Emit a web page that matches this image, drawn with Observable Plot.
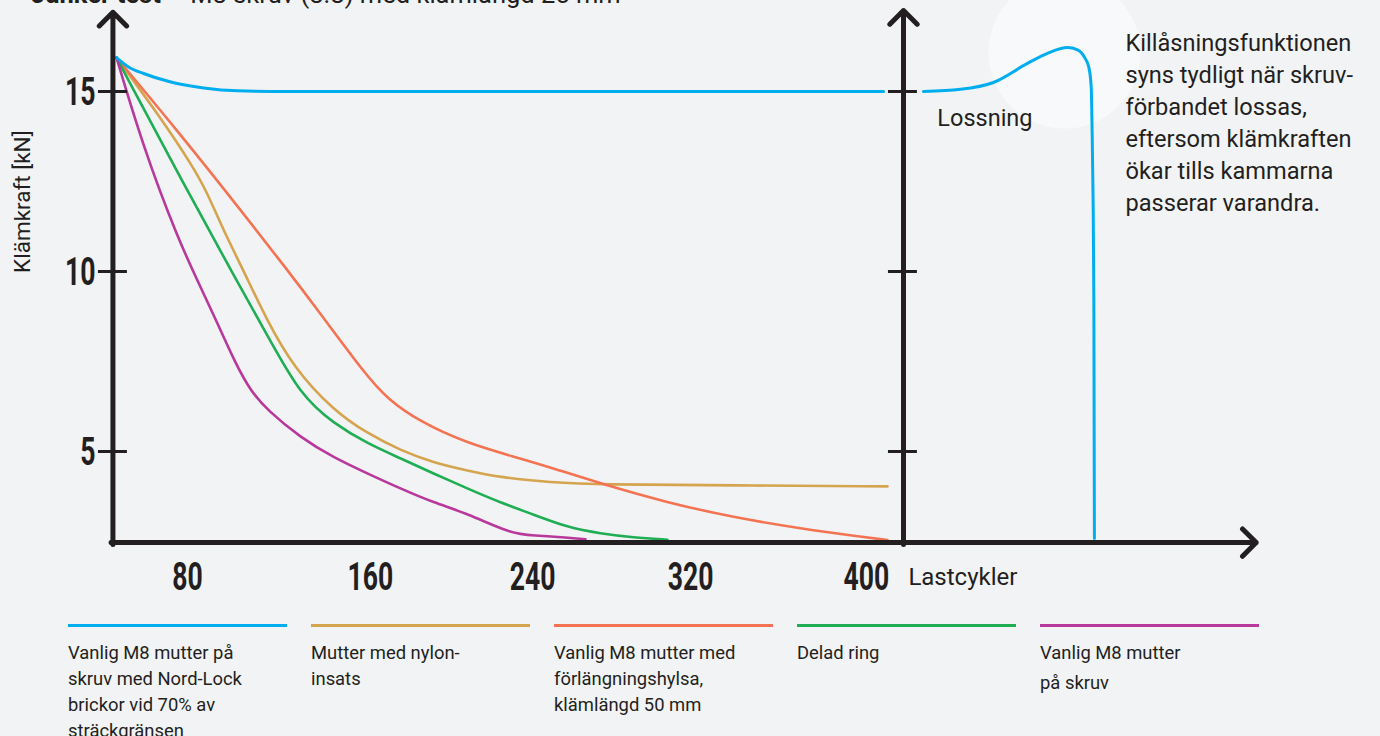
<!DOCTYPE html>
<html><head><meta charset="utf-8">
<script src="https://cdn.jsdelivr.net/npm/d3@7"></script>
<script src="https://cdn.jsdelivr.net/npm/@observablehq/plot@0.6"></script>
<style>
html,body{margin:0;padding:0;background:#f2f3f5;}
body{width:1380px;height:736px;overflow:hidden;position:relative;font-family:Roboto,sans-serif;color:#231f20;}
#title{position:absolute;left:31px;top:-18px;font-size:25.5px;line-height:25.5px;white-space:nowrap;}
#legend{display:flex;gap:24px;margin-left:68px;padding-top:19px;}
.item{width:219px;}
.item .sw{height:3px;}
.item .lab{margin-top:13px;font-size:18.4px;line-height:26px;}
.item.last .lab{margin-top:11px;line-height:30px;}
</style></head><body>
<div id="chart"></div>
<div id="legend"></div>
<div id="title"><b>Junker test</b> – M8 skruv (8.8) med klämlängd 25 mm</div>
<script>
// ---- data ----
const seriesNames = ["Nord-Lock", "Nylon", "Förlängningshylsa", "Delad ring", "Vanlig"];
const seriesColors = ["#00aeef", "#d5a44e", "#f47353", "#1fae54", "#b8399b"];
const legendLabels = [
  ["Vanlig M8 mutter på", "skruv med Nord-Lock", "brickor vid 70% av", "sträckgränsen"],
  ["Mutter med nylon-", "insats"],
  ["Vanlig M8 mutter med", "förlängningshylsa,", "klämlängd 50 mm"],
  ["Delad ring"],
  ["Vanlig M8 mutter", "på skruv"]
];

const nordLockX = [1.6, 8, 16, 30, 48, 66, 90, 409.4];
const nordLockY = [15.94, 15.68, 15.5, 15.27, 15.1, 15.02, 15.0, 15.0];
// loosening part (right panel)
const looseX = [430.6, 450.3, 467.8, 485.9, 496.5, 507.2, 512.3, 516.2, 518.5, 519.8, 520.3, 520.8, 521.2, 521.5];
const looseY = [15.0, 15.06, 15.25, 15.78, 16.06, 16.22, 16.16, 15.95, 15.68, 15.12, 13.83, 11.97, 9.19, 2.58];

const nylonX = [1.6, 25.0, 42.5, 50.0, 58.5, 69.1, 80.8, 95.7, 117.0, 135.0, 152.6, 170.1, 188.2, 205.7, 232.3, 258.9, 329.6, 411.5];
const nylonY = [15.94, 14.28, 12.89, 12.17, 11.14, 10.03, 8.72, 7.33, 6.14, 5.5, 5.03, 4.69, 4.47, 4.28, 4.14, 4.08, 4.06, 4.03];

const sleeveX = [1.6, 33.9, 69.1, 93.0, 104.7, 135.0, 145.7, 161.6, 188.2, 214.8, 232.3, 258.9, 294.5, 329.6, 365.2, 400.9, 411.5];
const sleeveY = [15.94, 13.92, 11.61, 10.0, 9.2, 7.06, 6.47, 5.86, 5.22, 4.83, 4.56, 4.11, 3.58, 3.17, 2.86, 2.61, 2.54];

const splitX = [1.6, 38.3, 65.4, 81.9, 99.4, 117.0, 135.0, 152.6, 170.1, 188.2, 205.7, 223.3, 241.4, 258.9, 276.4, 294.5];
const splitY = [15.94, 12.33, 9.75, 8.22, 6.56, 5.78, 5.22, 4.81, 4.39, 3.97, 3.58, 3.25, 2.89, 2.72, 2.61, 2.55];

const plainX = [1.6, 15.9, 34.0, 46.3, 55.3, 64.9, 72.8, 81.9, 99.4, 117.0, 135.0, 152.6, 170.1, 188.2, 211.1, 223.3, 241.4, 250.9];
const plainY = [15.94, 13.44, 10.94, 9.56, 8.56, 7.44, 6.69, 6.14, 5.39, 4.83, 4.39, 3.97, 3.58, 3.28, 2.72, 2.67, 2.61, 2.56];

const yTicks = [15, 10, 5];
const xTickLabels = ["80", "160", "240", "320", "400"];
const xTickPos = [39.3, 136.6, 222.8, 306.8, 400.3];   // where the labels sit along the cycle axis

const yDomain = [2.5, 15];
const xDomain = [0, 420];
const axisBottom = 2.47, axisTopL = 17.2, axisTopR = 17.25, axisRightEnd = 607.5, secondAxisX = 420;

const annotation = "Killåsningsfunktionen\nsyns tydligt när skruv-\nförbandet lossas,\neftersom klämkraften\nökar tills kammarna\npasserar varandra.";
const highlight = [{x: 505.6, y: 16.08}];

// ---- build ----
const toRows = (name, xs, ys) => xs.map((x, i) => ({series: name, x, y: ys[i]}));
const seriesData = [
  toRows(seriesNames[0], nordLockX, nordLockY),
  toRows(seriesNames[1], nylonX, nylonY),
  toRows(seriesNames[2], sleeveX, sleeveY),
  toRows(seriesNames[3], splitX, splitY),
  toRows(seriesNames[4], plainX, plainY)
];
const looseRows = toRows(seriesNames[0], looseX, looseY);

const ink = "#231f20";
const numFont = "Roboto, sans-serif";
const NUM_SIZE = 38;

const axes = [
  {x1: -0.3, y1: axisBottom - 0.05, x2: -0.3, y2: axisTopL},
  {x1: secondAxisX, y1: axisBottom - 0.05, x2: secondAxisX, y2: axisTopR},
  {x1: -1.3, y1: axisBottom, x2: axisRightEnd, y2: axisBottom}
];

const lineMarks = [1, 2, 3, 4, 0].map(i =>
  Plot.line(seriesData[i], {x: "x", y: "y", stroke: seriesColors[i], strokeWidth: i === 0 ? 3 : 2.6, curve: i === 0 ? "monotone-x" : "basis"})
);

const chart = Plot.plot({
  width: 1380,
  height: 605,
  margin: 0,
  style: {background: "transparent", fontFamily: "Roboto, sans-serif", color: ink, overflow: "visible"},
  x: {domain: xDomain, range: [113, 903], axis: null},
  y: {domain: yDomain, range: [541, 91], axis: null},
  marks: [
    Plot.dot(highlight, {x: "x", y: "y", r: 76, fill: "#f8f9fa", stroke: null}),
    ...lineMarks,
    Plot.line(looseRows, {x: "x", y: "y", stroke: seriesColors[0], strokeWidth: 3, curve: "monotone-x"}),
    Plot.arrow(axes, {x1: "x1", y1: "y1", x2: "x2", y2: "y2", stroke: ink, strokeWidth: 5, headAngle: 90, headLength: 5.8, strokeLinejoin: "miter"}),
    Plot.ruleY(yTicks, {y: d => d, x1: -8, x2: 7.4, stroke: ink, strokeWidth: 3}),
    Plot.ruleY(yTicks, {y: d => d, x1: secondAxisX - 8, x2: secondAxisX + 7.4, stroke: ink, strokeWidth: 3}),
    Plot.text(yTicks, {x: -9.6, y: d => d, text: d => String(d), textAnchor: "end", dy: 1, fontSize: NUM_SIZE, fontWeight: "bold", fontFamily: numFont, fill: ink}),
    Plot.text(xTickLabels, {x: (d, i) => xTickPos[i], y: 1.5, text: d => d, textAnchor: "middle", fontSize: NUM_SIZE, fontWeight: "bold", fontFamily: numFont, fill: ink}),
    Plot.text(["Lastcykler"], {x: 422.6, y: 1.5, text: d => d, textAnchor: "start", fontSize: 24, fill: ink}),
    Plot.text(["Lossning"], {x: 438, y: 14.25, text: d => d, textAnchor: "start", fontSize: 23.5, fill: ink}),
    Plot.text([annotation], {x: 538, y: 16.76, text: d => d, textAnchor: "start", lineAnchor: "top", lineHeight: 32 / 23.6, fontSize: 23.6, fill: ink}),
    Plot.text(["Klämkraft [kN]"], {x: -48.4, y: 11.94, text: d => d, rotate: -90, textAnchor: "middle", fontSize: 22.5, fill: ink})
  ]
});
document.getElementById("chart").appendChild(chart);

// condense the bold numeric tick labels horizontally (reference uses a condensed face)
d3.select(chart).selectAll(`g[font-size="${NUM_SIZE}"] text`).each(function () {
  const el = d3.select(this);
  let tr = el.attr("transform");
  if (!tr) {
    const x = +el.attr("x") || 0, y = +el.attr("y") || 0;
    tr = `translate(${x},${y})`;
    el.attr("x", null).attr("y", null);
  }
  el.attr("transform", tr + " scale(0.7,1)");
});

// legend
const legend = d3.select("#legend");
legendLabels.forEach((lines, i) => {
  const item = legend.append("div").attr("class", "item" + (i === legendLabels.length - 1 ? " last" : ""));
  item.append("div").attr("class", "sw").style("background", seriesColors[i]);
  item.append("div").attr("class", "lab").html(lines.join("<br>"));
});
</script>
</body></html>
